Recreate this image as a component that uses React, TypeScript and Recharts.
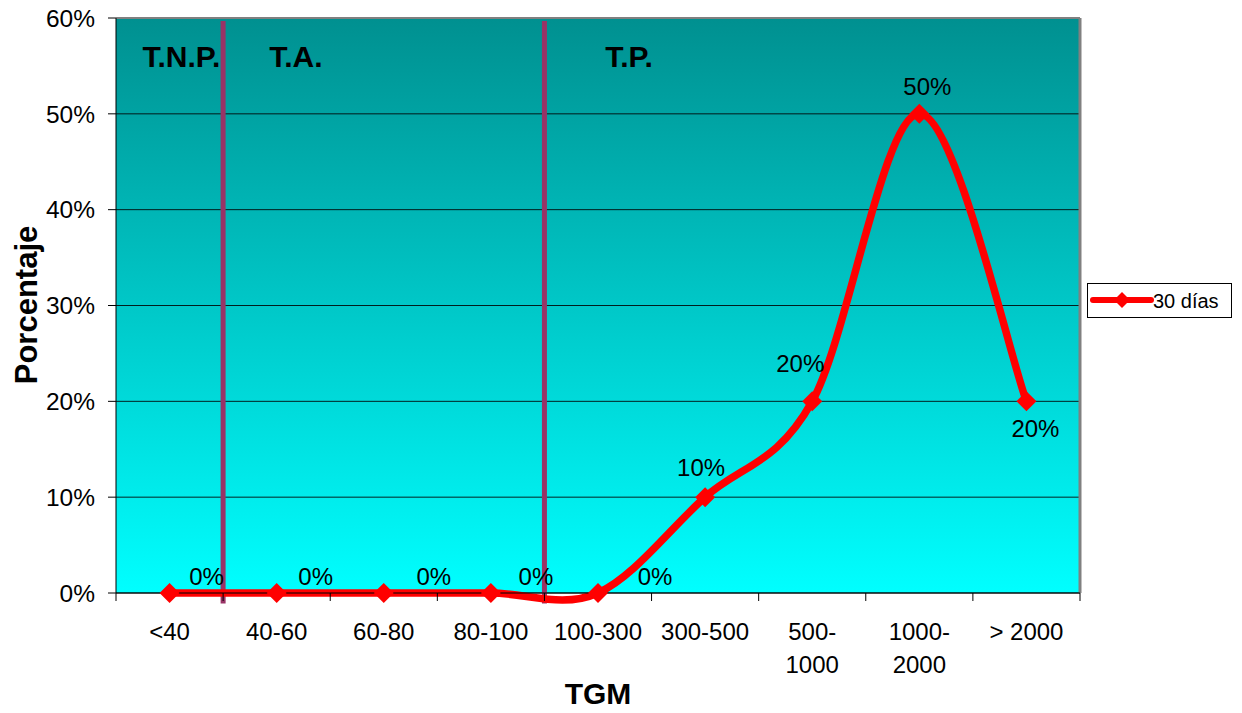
import React from 'react';
import {
  LineChart,
  Line,
  XAxis,
  YAxis,
  CartesianGrid,
  ReferenceLine,
  ReferenceDot,
  LabelList,
  Legend,
} from 'recharts';

// Categories of TGM and the share of cases in each one (30 días)
const categories = ['<40', '40-60', '60-80', '80-100', '100-300', '300-500', '500-1000', '1000-2000', '> 2000'];
const tickLabels: string[][] = [
  ['<40'],
  ['40-60'],
  ['60-80'],
  ['80-100'],
  ['100-300'],
  ['300-500'],
  ['500-', '1000'],
  ['1000-', '2000'],
  ['> 2000'],
];
const dias30 = [0, 0, 0, 0, 0, 0.1, 0.2, 0.5, 0.2];
const yTicks = [0, 0.1, 0.2, 0.3, 0.4, 0.5, 0.6];

// Zone boundaries (in category units) and their headings
const zoneBounds = [1, 4];
const zoneNames = ['T.N.P.', 'T.A.', 'T.P.'];
const zoneNamePos = [0.61, 1.68, 4.79];

// pos = centre of each category on a continuous 0..9 scale
const data = categories.map((c, i) => ({ cat: c, pos: i + 0.5, v: dias30[i] }));

const FONT = '"Liberation Sans", Arial, Helvetica, sans-serif';
const W = 1242;
const H = 713;
const M = { top: 18, right: 162, bottom: 0, left: 0 };
const Y_W = 116;
const X_H = 120;
const PLOT_W = W - M.left - M.right - Y_W;
const HALF = PLOT_W / categories.length / 2;

// Excel-style smoothed line: cubic Bezier segments with 1/6 tangent tension
const smoothCurve = (context: any) => {
  let pts: [number, number][] = [];
  return {
    areaStart() {},
    areaEnd() {},
    lineStart() {
      pts = [];
    },
    point(x: number, y: number) {
      pts.push([+x, +y]);
    },
    lineEnd() {
      if (!pts.length) return;
      context.moveTo(pts[0][0], pts[0][1]);
      for (let i = 0; i < pts.length - 1; i++) {
        const p0 = pts[i - 1] || pts[i];
        const p1 = pts[i];
        const p2 = pts[i + 1];
        const p3 = pts[i + 2] || pts[i + 1];
        context.bezierCurveTo(
          p1[0] + (p2[0] - p0[0]) / 6,
          p1[1] + (p2[1] - p0[1]) / 6,
          p2[0] - (p3[0] - p1[0]) / 6,
          p2[1] - (p3[1] - p1[1]) / 6,
          p2[0],
          p2[1]
        );
      }
    },
  };
};

const diamond = (cx: number, cy: number, r: number) =>
  `M${cx},${cy - r}L${cx + r},${cy}L${cx},${cy + r}L${cx - r},${cy}Z`;

const Dot = (p: any) => <path key={`d${p.index}`} d={diamond(p.cx, p.cy, 10)} fill="#FF0000" />;

// Label placement around each point
const labelOffsets: [number, number][] = [
  [37, -17],
  [39, -17],
  [50, -17],
  [45, -17],
  [57, -17],
  [-4, -30],
  [-12, -38],
  [8, -27],
  [9, 27],
];

const ValueLabel = (p: any) => {
  const [dx, dy] = labelOffsets[p.index] || [0, -20];
  return (
    <text
      x={p.x + dx}
      y={p.y + dy}
      textAnchor="middle"
      dominantBaseline="central"
      fontFamily={FONT}
      fontSize={24}
      fill="#000"
    >
      {`${Math.round(p.value * 100)}%`}
    </text>
  );
};

const XTick = (p: any) => {
  const { x, y, index } = p;
  const lines = tickLabels[index] || [];
  return (
    <g>
      {index === 0 && <line x1={x - HALF} x2={x - HALF} y1={y} y2={y + 8} stroke="#000" />}
      <line x1={x + HALF} x2={x + HALF} y1={y} y2={y + 8} stroke="#000" />
      {lines.map((t, k) => (
        <text key={k} x={x} y={y + 47 + k * 33} textAnchor="middle" fontFamily={FONT} fontSize={24} fill="#000">
          {t}
        </text>
      ))}
    </g>
  );
};

const LegendBox = () => (
  <svg width={146} height={36} style={{ display: 'block' }}>
    <rect x={0.5} y={0.5} width={144} height={34} fill="#fff" stroke="#000" />
    <line x1={6} x2={64} y1={17} y2={17} stroke="#FF0000" strokeWidth={6} strokeLinecap="round" />
    <path d={diamond(35, 17, 8)} fill="#FF0000" />
    <text x={66} y={25} fontFamily={FONT} fontSize={20} fill="#000">
      30 días
    </text>
  </svg>
);

export default function App() {
  return (
    <div style={{ position: 'absolute', left: 0, top: 0, width: W, height: H, background: '#fff' }}>
      <LineChart width={W} height={H} data={data} margin={M}>
        <defs>
          <linearGradient id="plotBg" x1="0" y1="0" x2="0" y2="1">
            <stop offset="0%" stopColor="#009090" />
            <stop offset="100%" stopColor="#00FFFF" />
          </linearGradient>
        </defs>
        <CartesianGrid vertical={false} stroke="#000" strokeOpacity={0.85} fill="url(#plotBg)" fillOpacity={1} />
        <XAxis
          dataKey="cat"
          height={X_H}
          interval={0}
          padding={{ left: HALF, right: HALF }}
          tickLine={false}
          tickSize={0}
          tickMargin={0}
          axisLine={{ stroke: '#000' }}
          tick={<XTick />}
          label={{
            content: (lp: any) => (
              <text
                x={lp.viewBox.x + lp.viewBox.width / 2}
                y={704}
                textAnchor="middle"
                fontFamily={FONT}
                fontWeight="bold"
                fontSize={30}
                fill="#000"
              >
                TGM
              </text>
            ),
          }}
        />
        <XAxis xAxisId="n" dataKey="pos" type="number" domain={[0, 9]} allowDataOverflow hide />
        <YAxis
          width={Y_W}
          domain={[0, 0.6]}
          ticks={yTicks}
          interval={0}
          tickFormatter={(v: number) => `${Math.round(v * 100)}%`}
          tickSize={8}
          tickMargin={13}
          tickLine={{ stroke: '#000' }}
          axisLine={{ stroke: '#000' }}
          tick={{ fill: '#000', fontSize: 24.5, fontFamily: FONT }}
          label={{
            content: () => (
              <text
                x={37}
                y={305}
                transform="rotate(-90 37 305)"
                textAnchor="middle"
                fontFamily={FONT}
                fontWeight="bold"
                fontSize={31}
                fill="#000"
              >
                Porcentaje
              </text>
            ),
          }}
        />
        <ReferenceLine y={0.6} stroke="#808080" strokeWidth={2} />
        <ReferenceLine xAxisId="n" x={9} stroke="#808080" strokeWidth={3} />
        {zoneBounds.map((b) => (
          <ReferenceLine
            key={b}
            xAxisId="n"
            ifOverflow="visible"
            segment={[
              { x: b, y: -0.011 },
              { x: b, y: 0.597 },
            ]}
            stroke="#993366"
            strokeWidth={5}
          />
        ))}
        {zoneNames.map((z, i) => (
          <ReferenceDot
            key={z}
            xAxisId="n"
            x={zoneNamePos[i]}
            y={0.56}
            r={0}
            stroke="none"
            fill="none"
            label={{ value: z, position: 'center', fontFamily: FONT, fontWeight: 'bold', fontSize: 30, fill: '#000' }}
          />
        ))}
        <Line
          dataKey="v"
          name="30 días"
          type={smoothCurve as any}
          stroke="#FF0000"
          strokeWidth={7.5}
          dot={Dot}
          activeDot={false}
          isAnimationActive={false}
        >
          <LabelList dataKey="v" content={ValueLabel} />
        </Line>
        <Legend
          layout="horizontal"
          verticalAlign="middle"
          align="center"
          content={() => <LegendBox />}
          wrapperStyle={{ left: 1087, top: 283, width: 146, height: 36 }}
        />
      </LineChart>
    </div>
  );
}
